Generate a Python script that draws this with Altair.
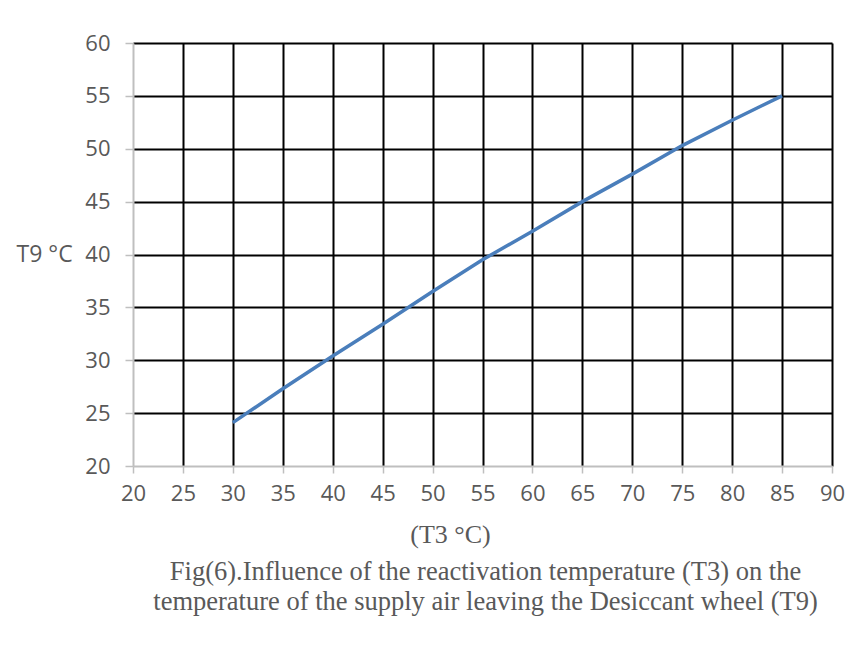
import altair as alt
import pandas as pd

t3 = [30, 35, 40, 45, 50, 55, 60, 65, 70, 75, 80, 85]
t9 = [24.1, 27.3, 30.4, 33.4, 36.5, 39.5, 42.2, 45.0, 47.6, 50.3, 52.7, 55.0]
x_ticks = list(range(20, 91, 5))
y_ticks = list(range(20, 61, 5))
caption = [
    "Fig(6).Influence of the reactivation temperature (T3) on the",
    "temperature of the supply air leaving the Desiccant wheel (T9)",
]

df = pd.DataFrame({"T3": t3, "T9": t9})

grid_color = {"condition": {"test": "datum.value === 20", "value": "transparent"}, "value": "#000000"}

line = alt.Chart(df).mark_line(color="#4a7ebb", strokeWidth=3.5).encode(
    x=alt.X(
        "T3:Q",
        scale=alt.Scale(domain=[20, 90], nice=False, zero=False),
        axis=alt.Axis(
            values=x_ticks,
            title="(T3 °C)",
            titleFont="Liberation Serif",
            titleFontSize=26,
            titleFontWeight="normal",
            titleColor="#595959",
            titleX=317,
            titleY=68,
            titleAlign="center",
            titleBaseline="middle",
            labelFont="Open Sans",
            labelFontSize=22,
            labelColor="#595959",
            labelPadding=10,
            labelFlush=False,
            labelOverlap=False,
            tickSize=7,
            tickColor="#bfbfbf",
            tickWidth=1.5,
            domainColor="#bfbfbf",
            domainWidth=2,
            grid=True,
            gridColor=grid_color,
            gridWidth=2,
            gridOpacity=1,
        ),
    ),
    y=alt.Y(
        "T9:Q",
        scale=alt.Scale(domain=[20, 60], nice=False, zero=False),
        axis=alt.Axis(
            values=y_ticks,
            title="T9 °C",
            titleFont="Open Sans",
            titleFontSize=23,
            titleFontWeight="normal",
            titleColor="#595959",
            titleAngle=0,
            titleX=-117,
            titleY=211,
            titleAlign="left",
            titleBaseline="middle",
            labelFont="Open Sans",
            labelFontSize=22,
            labelColor="#595959",
            labelPadding=15,
            labelFlush=False,
            labelOverlap=False,
            tickSize=8,
            tickColor="#bfbfbf",
            tickWidth=1.5,
            domainColor="#bfbfbf",
            domainWidth=2,
            grid=True,
            gridColor=grid_color,
            gridWidth=2,
            gridOpacity=1,
        ),
    ),
)

chart = line.properties(
    width=699,
    height=423,
    autosize=alt.AutoSizeParams(type="none"),
    padding={"left": 125, "top": 35, "right": 27, "bottom": 176},
    title=alt.TitleParams(
        text=caption,
        orient="bottom",
        anchor="middle",
        font="Liberation Serif",
        fontSize=26.5,
        fontWeight="normal",
        color="#595959",
        lineHeight=29.5,
        offset=12,
        dx=3,
    ),
).configure_view(stroke=None).configure(background="white")

chart.save("out.html", embed_options={"renderer": "svg", "actions": False})
